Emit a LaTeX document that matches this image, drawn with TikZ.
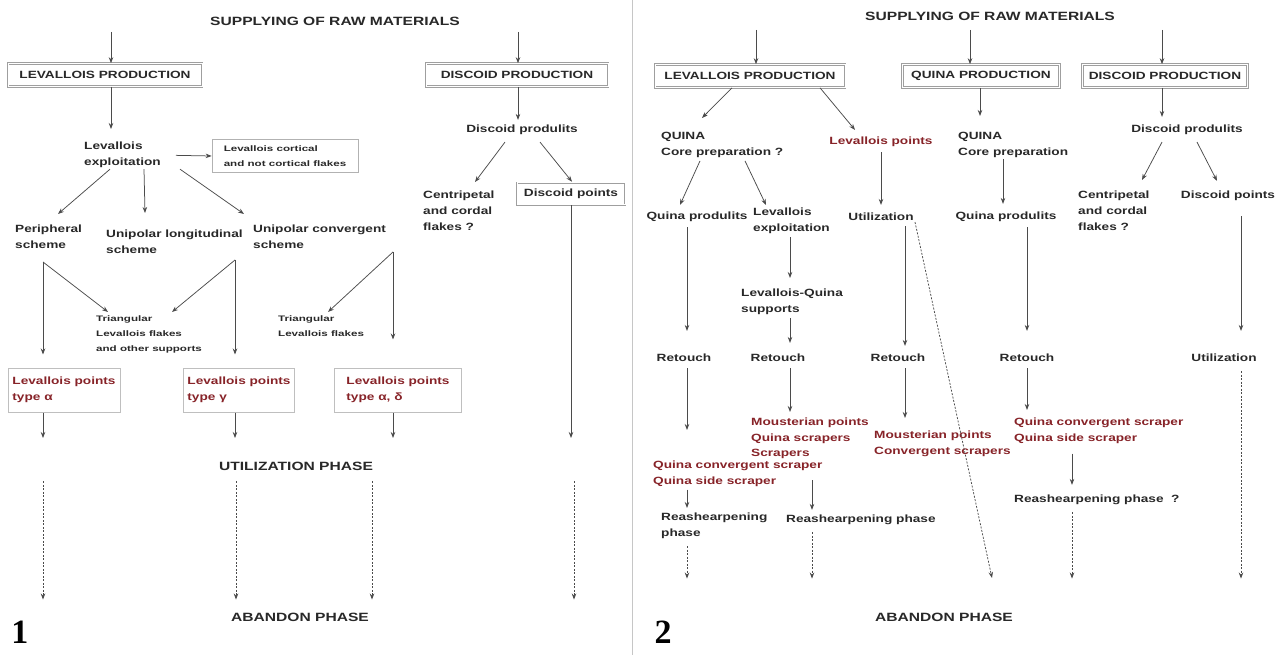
\documentclass[tikz,border=0pt]{standalone}
\usepackage{fontspec}
\setmainfont[FakeStretch=1.3]{Liberation Sans}
\newfontfamily\smallfont[FakeStretch=1.45]{Liberation Sans}
\newfontfamily\panelfont{Liberation Serif}
\usetikzlibrary{arrows.meta}
\definecolor{ink}{RGB}{40,40,40}
\definecolor{rust}{RGB}{135,35,40}
\definecolor{wire}{RGB}{75,75,75}

\tikzset{
  lab/.style={font=\bfseries\fontsize{10.5}{16}\selectfont, text=ink, align=left, inner sep=1pt},
  redlab/.style={lab, text=rust, font=\bfseries\fontsize{10.5}{15.5}\selectfont},
  note/.style={lab, font=\smallfont\bfseries\fontsize{8}{15}\selectfont},
  head/.style={lab, font=\bfseries\fontsize{12}{14}\selectfont},
  prodbox/.style={lab, draw=gray!75, double, double distance=1pt, line width=0.6pt, minimum height=23pt, align=center},
  ptbox/.style={redlab, draw=gray!50, line width=1pt, minimum height=44pt, inner sep=4pt},
  panel/.style={font=\panelfont\bfseries\fontsize{34}{34}\selectfont, text=black, inner sep=0pt},
  arr/.style={draw=wire, line width=0.75pt, -{Stealth[length=6pt,width=4.5pt]}},
  darr/.style={arr, dash pattern=on 2pt off 1.5pt}
}

\begin{document}
\begin{tikzpicture}[x=1pt,y=-1pt]
\useasboundingbox (0,0) rectangle (1288,655);
\draw[gray!45, line width=1pt] (632,0) -- (632,655);

% ---- scheme 1
\node[head] (supply1) at (335,21) {SUPPLYING OF RAW MATERIALS};
\node[prodbox, minimum width=194pt] (levprod1) at (105,75) {LEVALLOIS PRODUCTION};
\node[prodbox, minimum width=182pt] (discprod1) at (517,75) {DISCOID PRODUCTION};
\node[lab, anchor=north west] (expl1) at (83,141) {Levallois\\exploitation};
\node[note, draw=gray!60, line width=0.7pt, minimum width=146pt, minimum height=33pt] (cortical) at (285,156) {Levallois cortical\\and not cortical flakes};
\node[lab, anchor=north west] (peri) at (14,224) {Peripheral\\scheme};
\node[lab, anchor=north west] (unilong) at (105,229) {Unipolar longitudinal\\scheme};
\node[lab, anchor=north west] (uniconv) at (252,224) {Unipolar convergent\\scheme};
\node[note, anchor=north west] (tri1) at (95,315) {Triangular\\Levallois flakes\\and other supports};
\node[note, anchor=north west] (tri2) at (277,315) {Triangular\\Levallois flakes};
\node[ptbox, minimum width=112pt] (ptalpha) at (64,390) {Levallois points\\type α};
\node[ptbox, minimum width=102pt] (ptgamma) at (239,390) {Levallois points\\type γ};
\node[ptbox, minimum width=127pt] (ptdelta) at (398,390) {Levallois points\\type α, δ};
\node[lab] (discprods1) at (522,130) {Discoid produlits};
\node[lab, anchor=north west] (centr1) at (422,190) {Centripetal\\and cordal\\flakes ?};
\node[prodbox, minimum width=108pt, minimum height=22pt] (discpts1) at (571,194) {Discoid points};
\node[head] (util1) at (296,466) {UTILIZATION PHASE};
\node[head] (aban1) at (300,617) {ABANDON PHASE};
\node[panel] (num1) at (20,632) {1};

\coordinate (in1) at (111,32);
\coordinate (in2) at (518,32);
\coordinate (pbr) at (43,262);
\coordinate (ubr) at (235,260);
\coordinate (cbr) at (393,252);
\coordinate (row1) at (0,438);

\draw[arr] (in1) -- (in1 |- levprod1.north);
\draw[arr, shorten >=12pt] (levprod1.south -| in1) -- (in1 |- expl1.north);
\draw[arr, shorten <=14pt] (expl1.east) -- (cortical.west);
\draw[arr] ([xshift=27pt]expl1.south west) -- ([xshift=44pt,yshift=10pt]peri.north west);
\draw[arr] ([xshift=61pt]expl1.south west) -- ([xshift=40pt,yshift=16pt]unilong.north west);
\draw[arr] ([xshift=97pt]expl1.south west) -- ([xshift=-8pt,yshift=10pt]uniconv.north west);
\draw[arr] (pbr) -- ([xshift=13pt,yshift=3pt]tri1.north west);
\draw[arr, shorten >=13pt] (pbr) -- (pbr |- ptalpha.north);
\draw[arr] (ubr) -- ([xshift=77pt,yshift=3pt]tri1.north west);
\draw[arr, shorten >=13pt] (ubr) -- (ubr |- ptgamma.north);
\draw[arr] (cbr) -- ([xshift=51pt,yshift=3pt]tri2.north west);
\draw[arr, shorten >=28pt] (cbr) -- (cbr |- ptdelta.north);
\draw[arr] (in2) -- (in2 |- discprod1.north);
\draw[arr, shorten >=4pt] (discprod1.south -| in2) -- (in2 |- discprods1.north);
\draw[arr] ([xshift=-17pt,yshift=-6pt]discprods1.south) -- ([xshift=53pt,yshift=8pt]centr1.north west);
\draw[arr] ([xshift=18pt,yshift=-6pt]discprods1.south) -- ([xshift=1pt,yshift=1pt]discpts1.north);
\draw[arr] (ptalpha.south -| pbr) -- (pbr |- row1);
\draw[arr] (ptgamma.south -| ubr) -- (ubr |- row1);
\draw[arr] (ptdelta.south -| cbr) -- (cbr |- row1);
\draw[arr] (discpts1.south) -- (discpts1.south |- row1);
\foreach \x in {43,236,372,574}
  \draw[darr, shorten <=10pt, shorten >=12pt] (\x,0 |- util1.south) -- (\x,0 |- aban1.north);

% ---- scheme 2
\node[head] (supply2) at (990,16) {SUPPLYING OF RAW MATERIALS};
\node[prodbox, minimum width=190pt] (levprod2) at (750,76) {LEVALLOIS PRODUCTION};
\node[prodbox, minimum width=157pt] (quinaprod2) at (981,76) {QUINA PRODUCTION};
\node[prodbox, minimum width=165pt] (discprod2) at (1165,76) {DISCOID PRODUCTION};
\node[lab, anchor=north west] (quinacore) at (660,131) {QUINA\\Core preparation ?};
\node[redlab] (levpts2) at (881,142) {Levallois points};
\node[lab] (quinaprods2) at (697,217) {Quina produlits};
\node[lab, anchor=north west] (levexpl2) at (752,207) {Levallois\\exploitation};
\node[lab] (util2) at (881,217) {Utilization};
\node[lab, anchor=north west] (lqs) at (740,288) {Levallois-Quina\\supports};
\node[lab] (ret1) at (684,358) {Retouch};
\node[lab] (ret2) at (778,358) {Retouch};
\node[lab] (ret3) at (898,358) {Retouch};
\node[redlab, anchor=north west] (mqs) at (750,417) {Mousterian points\\Quina scrapers\\Scrapers};
\node[redlab, anchor=north west] (mcs) at (873,430) {Mousterian points\\Convergent scrapers};
\node[redlab, anchor=north west] (qcs1) at (652,460) {Quina convergent scraper\\Quina side scraper};
\node[lab, anchor=north west] (resh1) at (660,512) {Reashearpening\\phase};
\node[lab, anchor=west] (resh2) at (785,520) {Reashearpening phase};
\node[lab, anchor=north west] (quinacore3) at (957,131) {QUINA\\Core preparation};
\node[lab] (quinaprods3) at (1006,217) {Quina produlits};
\node[lab] (ret4) at (1027,358) {Retouch};
\node[redlab, anchor=north west] (qcs2) at (1013,417) {Quina convergent scraper\\Quina side scraper};
\node[lab, anchor=west] (resh3) at (1013,500) {Reashearpening phase\ \ ?};
\node[lab] (discprods2) at (1187,130) {Discoid produlits};
\node[lab, anchor=north west] (centr2) at (1077,190) {Centripetal\\and cordal\\flakes ?};
\node[lab] (discpts2) at (1228,196) {Discoid points};
\node[lab] (util3) at (1224,358) {Utilization};
\node[head] (aban2) at (944,617) {ABANDON PHASE};
\node[panel] (num2) at (663,632) {2};

\coordinate (in3) at (756,30);
\coordinate (in4) at (970,30);
\coordinate (in5) at (1162,30);
\coordinate (c6) at (687,0);
\coordinate (c7) at (790,0);
\coordinate (c7b) at (812,0);
\coordinate (c8) at (905,0);
\coordinate (c9) at (980,0);
\coordinate (c10) at (1003,0);
\coordinate (c11) at (1027,0);
\coordinate (c12) at (1072,0);
\coordinate (c13) at (1162,0);
\coordinate (c14) at (1241,0);
\coordinate (drop) at (992,578);

\draw[arr] (in3) -- (in3 |- levprod2.north);
\draw[arr] (in4) -- (in4 |- quinaprod2.north);
\draw[arr] (in5) -- (in5 |- discprod2.north);
\draw[arr] ([xshift=-18pt]levprod2.south) -- ([xshift=42pt,yshift=13pt]quinacore.north west);
\draw[arr] ([xshift=70pt]levprod2.south) -- ([xshift=-26pt,yshift=6pt]levpts2.north);
\draw[arr] ([xshift=40pt,yshift=-2pt]quinacore.south west) -- ([xshift=-17pt,yshift=6pt]quinaprods2.north);
\draw[arr] ([xshift=85pt,yshift=-2pt]quinacore.south west) -- ([xshift=14pt,yshift=2pt]levexpl2.north west);
\draw[arr, shorten <=4pt, shorten >=7pt] (levpts2.south) -- (util2.north);
\draw[arr, shorten <=4pt, shorten >=22pt] (c6 |- quinaprods2.south) -- (c6 |- ret1.north);
\draw[arr, shorten <=2pt, shorten >=10pt] (c7 |- levexpl2.south) -- (c7 |- lqs.north);
\draw[arr, shorten <=2pt, shorten >=10pt] (c7 |- lqs.south) -- (c7 |- ret2.north);
\draw[arr, shorten <=4pt, shorten >=7pt] (c8 |- util2.south) -- (c8 |- ret3.north);
\draw[darr] ([xshift=34pt]util2.south) -- (drop);
\draw[arr, shorten <=5pt, shorten >=30pt] (c6 |- ret1.south) -- (c6 |- qcs1.north);
\draw[arr, shorten <=2pt, shorten >=4pt] (c6 |- qcs1.south) -- (c6 |- resh1.north);
\draw[darr, shorten <=6pt, shorten >=33pt] (c6 |- resh1.south) -- (c6 |- aban2.north);
\draw[arr, shorten <=5pt, shorten >=5pt] (c7 |- ret2.south) -- (c7 |- mqs.north);
\draw[arr, shorten <=20pt, shorten >=4pt] (c7b |- mqs.south) -- (c7b |- resh2.north);
\draw[darr, shorten <=6pt, shorten >=33pt] (c7b |- resh2.south) -- (c7b |- aban2.north);
\draw[arr, shorten <=5pt, shorten >=12pt] (c8 |- ret3.south) -- (c8 |- mcs.north);
\draw[arr, shorten >=15pt] (c9 |- quinaprod2.south) -- (c9 |- quinacore3.north);
\draw[arr, shorten >=7pt] (c10 |- quinacore3.south) -- (c10 |- quinaprods3.north);
\draw[arr, shorten <=4pt, shorten >=22pt] (c11 |- quinaprods3.south) -- (c11 |- ret4.north);
\draw[arr, shorten <=5pt, shorten >=7pt] (c11 |- ret4.south) -- (c11 |- qcs2.north);
\draw[arr, shorten <=9pt, shorten >=9pt] (c12 |- qcs2.south) -- (c12 |- resh3.north);
\draw[darr, shorten <=6pt, shorten >=33pt] (c12 |- resh3.south) -- (c12 |- aban2.north);
\draw[arr, shorten >=7pt] (c13 |- discprod2.south) -- (c13 |- discprods2.north);
\draw[arr] ([xshift=-25pt,yshift=-6pt]discprods2.south) -- ([xshift=65pt,yshift=10pt]centr2.north west);
\draw[arr] ([xshift=10pt,yshift=-6pt]discprods2.south) -- ([xshift=-11pt,yshift=9pt]discpts2.north);
\draw[arr, shorten <=14pt, shorten >=22pt] (c14 |- discpts2.south) -- (c14 |- util3.north);
\draw[darr, shorten <=8pt, shorten >=33pt] (c14 |- util3.south) -- (c14 |- aban2.north);
\end{tikzpicture}
\end{document}
